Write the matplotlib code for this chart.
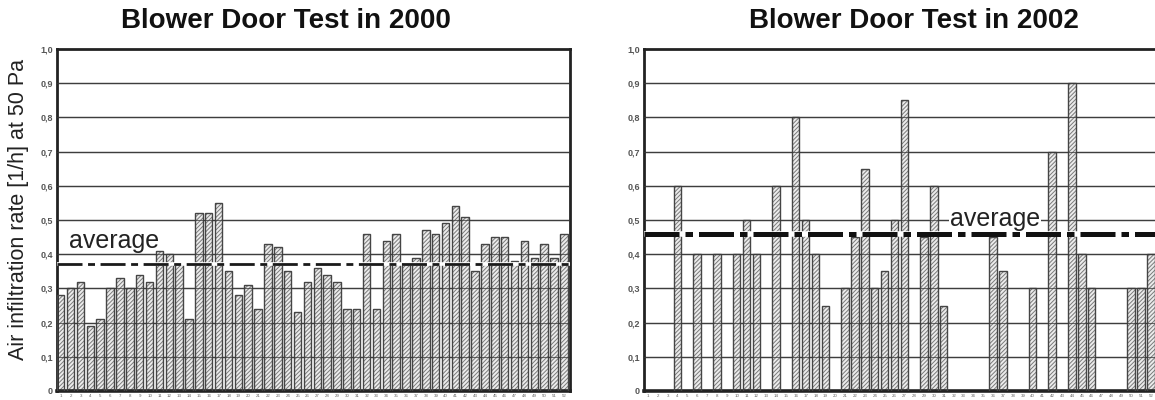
import matplotlib
matplotlib.use("Agg")
import matplotlib.pyplot as plt
import numpy as np

plt.rcParams['font.family'] = ['Liberation Sans', 'DejaVu Sans']
plt.rcParams['hatch.linewidth'] = 0.7

# ---------------- data ----------------
titles = ["Blower Door Test in 2000", "Blower Door Test in 2002"]
ylabel = "Air infiltration rate [1/h] at 50 Pa"
ytick_vals = [0, 0.1, 0.2, 0.3, 0.4, 0.5, 0.6, 0.7, 0.8, 0.9, 1.0]
ytick_labels = ["0", "0,1", "0,2", "0,3", "0,4", "0,5", "0,6", "0,7", "0,8", "0,9", "1,0"]
house_numbers = [str(i) for i in range(1, 53)]

values_2000 = [0.28, 0.30, 0.32, 0.19, 0.21, 0.30, 0.33, 0.30, 0.34, 0.32,
               0.41, 0.40, 0.37, 0.21, 0.52, 0.52, 0.55, 0.35, 0.28, 0.31,
               0.24, 0.43, 0.42, 0.35, 0.23, 0.32, 0.36, 0.34, 0.32, 0.24,
               0.24, 0.46, 0.24, 0.44, 0.46, 0.37, 0.39, 0.47, 0.46, 0.49,
               0.54, 0.51, 0.35, 0.43, 0.45, 0.45, 0.38, 0.44, 0.39, 0.43,
               0.39, 0.46]

values_2002 = [0, 0, 0, 0.60, 0, 0.40, 0, 0.40, 0, 0.40,
               0.50, 0.40, 0, 0.60, 0, 0.80, 0.50, 0.40, 0.25, 0,
               0.30, 0.45, 0.65, 0.30, 0.35, 0.50, 0.85, 0, 0.45, 0.60,
               0.25, 0, 0, 0, 0, 0.45, 0.35, 0, 0, 0.30,
               0, 0.70, 0, 0.90, 0.40, 0.30, 0, 0, 0, 0.30,
               0.30, 0.40]

average_2000 = 0.37
average_2002 = 0.46
average_label = "average"

# ---------------- figure ----------------
W, H = 1155, 400
fig = plt.figure(figsize=(W / 100, H / 100), dpi=100)

ax1 = fig.add_axes([57 / W, 9 / H, 513 / W, 342 / H])
ax2 = fig.add_axes([644 / W, 9 / H, 513 / W, 342 / H])


def draw(ax, vals, title, title_x):
    x = np.arange(len(vals))
    v = np.array(vals, dtype=float)
    mask = v > 0
    for yv in ytick_vals[1:-1]:
        ax.axhline(yv, color='#4a4a4a', lw=1.0, zorder=1)
    ax.bar(x[mask], v[mask], width=0.76, align='edge', color='#ececec',
           edgecolor='#7a7a7a', hatch='////////', lw=0, zorder=2)
    ax.bar(x[mask], v[mask], width=0.76, align='edge', fill=False,
           edgecolor='#454545', lw=1.0, zorder=3)
    for yv in ytick_vals[1:-1]:
        ax.axhline(yv, color='#3a3a3a', lw=0.8, alpha=0.75, zorder=4)
    ax.set_xlim(0, len(vals))
    ax.set_ylim(0, 1.0)
    ax.set_yticks(ytick_vals)
    ax.set_yticklabels(ytick_labels, fontsize=6.5, color='#555555', fontweight='bold')
    ax.set_xticks(x + 0.4)
    ax.set_xticklabels(house_numbers, fontsize=3.2, color='#666666')
    ax.tick_params(axis='x', length=0, pad=2)
    ax.tick_params(axis='y', length=0, pad=3)
    for s in ax.spines.values():
        s.set_linewidth(2.0)
        s.set_color('#222222')
    ax.spines['bottom'].set_linewidth(2.6)
    ax.text(title_x, 1.06, title, transform=ax.transAxes, ha='center',
            va='baseline', fontsize=20, fontweight='bold', color='#111111')
    return ax


draw(ax1, values_2000, titles[0], 0.447)
draw(ax2, values_2002, titles[1], 0.527)

# average lines
ax1.axhline(average_2000, color='white', lw=2.6, zorder=5)
ax1.axhline(average_2000, color='#1a1a1a', lw=2.0, zorder=6,
            dashes=(9, 2, 2.5, 2))
ax2.axhline(average_2002, color='white', lw=4.0, zorder=5)
ax2.axhline(average_2002, color='#111111', lw=3.6, zorder=6,
            dashes=(7, 1.2, 1.5, 1.2))

ax1.text(1.25, 0.418, average_label, fontsize=18, color='#222222',
         ha='left', va='baseline', zorder=7)
ax2.text(31.0, 0.483, average_label, fontsize=18, color='#222222',
         ha='left', va='baseline', zorder=7,
         bbox=dict(facecolor='white', edgecolor='none', pad=0.5))

fig.text(19 / W, 1 - 210 / H, ylabel, rotation=90, ha='center', va='center',
         fontsize=15.5, color='#222222')

fig.savefig("out.png", dpi=100)
